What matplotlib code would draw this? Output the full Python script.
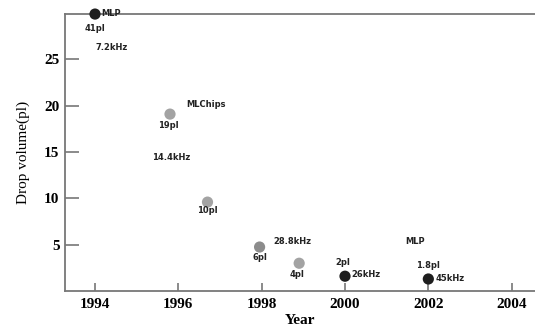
import matplotlib
matplotlib.use("Agg")
import matplotlib.pyplot as plt

# data
years = [1994.0, 1995.8, 1996.7, 1997.95, 1998.9, 2000.0, 2002.0]
volume = [29.9, 19.1, 9.6, 4.75, 3.0, 1.6, 1.3]
colors = ['#1e1e1e', '#a3a3a3', '#a3a3a3', '#8c8c8c', '#a3a3a3', '#1e1e1e', '#1e1e1e']

# (x, y, text) notes
notes = [
    (1994.15, 30.0, 'MLP'),
    (1994.0, 28.3, '41pl'),
    (1994.0, 26.3, '7.2kHz'),
    (1996.18, 20.1, 'MLChips'),
    (1995.75, 17.9, '19pl'),
    (1995.38, 14.4, '14.4kHz'),
    (1996.7, 8.7, '10pl'),
    (1997.95, 3.6, '6pl'),
    (1998.27, 5.4, '28.8kHz'),
    (1998.85, 1.8, '4pl'),
    (1999.95, 3.1, '2pl'),
    (2000.15, 1.8, '26kHz'),
    (2001.45, 5.4, 'MLP'),
    (2001.7, 2.8, '1.8pl'),
    (2002.18, 1.4, '45kHz'),
]
has = ['left', 'center', 'left', 'left', 'center', 'left', 'center', 'center',
       'left', 'center', 'center', 'left', 'left', 'left', 'left']

fig = plt.figure(figsize=(5.35, 3.27), dpi=100)
ax = fig.add_axes([0.1215, 0.11, 0.8785, 0.847])

ax.scatter(years, volume, s=65, c=colors, zorder=3, clip_on=False, linewidths=0)

for (x, y, t), ha in zip(notes, has):
    ax.text(x, y, t, fontsize=6, fontweight='bold', family='DejaVu Sans',
            ha=ha, va='center', color='#222222')

ax.set_xlim(1993.28, 2004.56)
ax.set_ylim(0, 29.9)
ax.set_xticks([1994, 1996, 1998, 2000, 2002, 2004])
ax.set_yticks([5, 10, 15, 20, 25])

for s in ['left', 'bottom', 'top']:
    ax.spines[s].set_color('#777777')
    ax.spines[s].set_linewidth(1.3)
ax.spines['right'].set_visible(False)

ax.tick_params(direction='in', width=1.2, color='#777777')
ax.tick_params(axis='x', length=6, pad=5)
ax.tick_params(axis='y', length=10, pad=4)
for lab in ax.get_xticklabels() + ax.get_yticklabels():
    lab.set_family('Liberation Serif')
    lab.set_fontweight('bold')
    lab.set_fontsize(11)

ax.set_xlabel('Year', family='Liberation Serif', fontweight='bold', fontsize=11, labelpad=2)
ax.set_ylabel('Drop volume(pl)', family='Liberation Serif', fontsize=11, labelpad=10)

fig.savefig('out.png', dpi=100)
